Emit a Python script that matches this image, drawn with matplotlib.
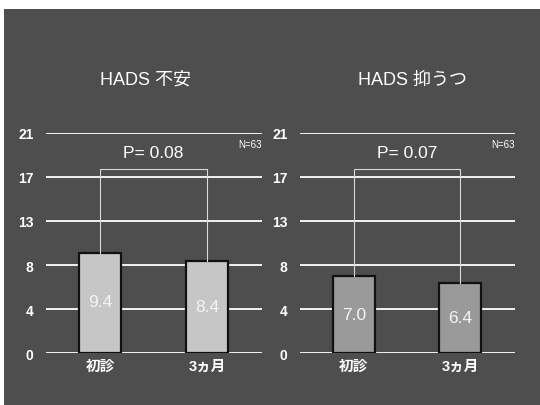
import numpy as np
import matplotlib
matplotlib.use("Agg")
import matplotlib.pyplot as plt
from matplotlib.patches import Rectangle

plt.rcParams['font.family'] = ['Liberation Sans', 'Noto Sans CJK JP', 'DejaVu Sans']

# --- data -------------------------------------------------------------
categories = ["初診", "3ヵ月"]
anxiety = [9.4, 8.4]
depression = [7.0, 6.4]
titles = ["HADS 不安", "HADS 抑うつ"]
p_labels = ["P= 0.08", "P= 0.07"]
n_label = "N=63"
y_ticks = [0, 4, 8, 13, 17, 21]

# Evenly spaced ticks with uneven values -> piecewise-linear scale
tick_pos = np.arange(len(y_ticks), dtype=float)


def fwd(v):
    return np.interp(v, y_ticks, tick_pos)


def inv(p):
    return np.interp(p, tick_pos, y_ticks)


W, H = 540, 406
fig = plt.figure(figsize=(W / 100, H / 100), dpi=100, facecolor="white")

# slide background
fig.patches.append(Rectangle((4 / W, 0), 1, 1 - 10 / H, transform=fig.transFigure,
                             facecolor="#4e4e4e", edgecolor="none", zorder=-10))

panels = [
    dict(vals=anxiety, color="#c6c6c6", left=46, right=262, title_x=146),
    dict(vals=depression, color="#9a9a9a", left=300, right=515, title_x=412),
]

bottom_px, top_px = 354, 134
for i, pn in enumerate(panels):
    ax = fig.add_axes([pn["left"] / W, 1 - bottom_px / H,
                       (pn["right"] - pn["left"]) / W, (bottom_px - top_px) / H])
    ax.set_facecolor("none")
    ax.set_yscale("function", functions=(fwd, inv))
    ax.set_ylim(0, 21)
    ax.set_xlim(-0.505, 1.515)
    for s in ax.spines.values():
        s.set_visible(False)

    # horizontal grid lines
    for t in y_ticks:
        ax.axhline(t, color="#f2f2f2", lw=1.4, zorder=1)

    x = np.arange(len(categories))
    ax.bar(x, pn["vals"], width=0.39, color=pn["color"], edgecolor="#111111",
           linewidth=1.6, zorder=3)

    # value labels inside bars
    for xi, v in zip(x, pn["vals"]):
        ax.text(xi, v / 2, f"{v:.1f}", ha="center", va="center",
                color="#f4f4f4", fontsize=12.5, zorder=5)

    # significance bracket
    top = 17.7
    ax.plot([x[0], x[0], x[1], x[1]], [pn["vals"][0], top, top, pn["vals"][1]],
            color="#d8d8d8", lw=0.8, zorder=4)
    ax.text((x[0] + x[1]) / 2, 19.2, p_labels[i], ha="center", va="center",
            color="white", fontsize=12.5, zorder=5)
    ax.text(1.0, 20.0, n_label, transform=ax.get_yaxis_transform(), ha="right",
            va="center", color="white", fontsize=7, zorder=5)

    ax.set_yticks(y_ticks)
    ax.set_yticklabels([str(t) for t in y_ticks], color="white",
                       fontsize=10, fontweight="bold")
    ax.set_xticks(x)
    ax.set_xticklabels(categories, color="white", fontsize=10.5, fontweight="bold")
    ax.tick_params(axis="y", length=0, pad=9)
    ax.tick_params(axis="x", length=0, pad=4)

    fig.text(pn["title_x"] / W, 1 - 80 / H, titles[i], ha="center", va="center",
             color="white", fontsize=13)

fig.savefig("out.png", dpi=100, facecolor=fig.get_facecolor())
